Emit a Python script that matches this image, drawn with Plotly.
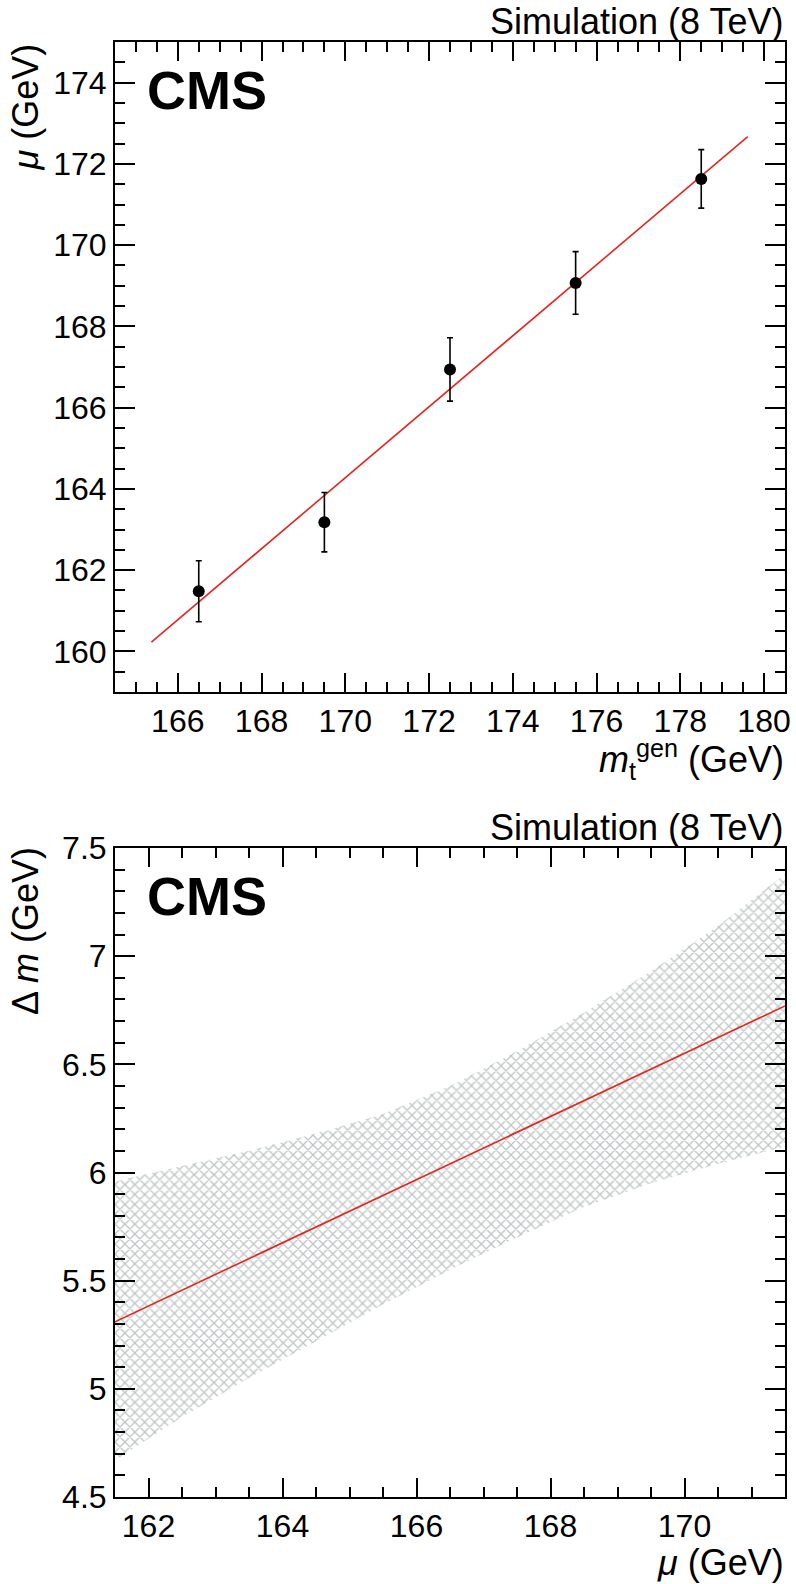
import plotly.graph_objects as go

# ---- top panel data ----
mt_gen = [166.5, 169.5, 172.5, 175.5, 178.5]
mu_fit = [161.48, 163.18, 166.94, 169.07, 171.63]
mu_err = [0.75, 0.73, 0.78, 0.77, 0.72]
fit_x = [165.37, 179.61]
fit_y = [160.23, 172.67]

# ---- bottom panel data ----
mu_grid = [161.5, 162.5, 163.5, 164.5, 165.5, 166.5, 167.5, 168.5, 169.5, 170.5, 171.5]
dm_upper = [5.96, 6.03, 6.10, 6.18, 6.27, 6.40, 6.56, 6.74, 6.93, 7.14, 7.38]
dm_lower = [4.67, 4.87, 5.05, 5.22, 5.39, 5.55, 5.70, 5.84, 5.95, 6.04, 6.12]
dm_line_x = [161.5, 171.5]
dm_line_y = [5.31, 6.77]

W, H = 796, 1584
ML, MR, MT, MB = 115, 5, 42, 87
PH = H - MT - MB


def py(p):
    return (H - MB - p) / PH


FONT = "Liberation Sans, Arial, sans-serif"
RED = "#e3261e"

fig = go.Figure()

fig.add_trace(go.Scatter(
    x=fit_x, y=fit_y, mode="lines", line=dict(color=RED, width=1.6),
    xaxis="x", yaxis="y", showlegend=False, hoverinfo="skip"))
fig.add_trace(go.Scatter(
    x=mt_gen, y=mu_fit, mode="markers",
    marker=dict(color="black", size=12),
    error_y=dict(type="data", array=mu_err, color="black", thickness=1.6, width=3),
    xaxis="x", yaxis="y", showlegend=False))

fig.add_trace(go.Scatter(
    x=mu_grid, y=dm_lower, mode="lines", line=dict(width=0, color="rgba(0,0,0,0)"),
    xaxis="x2", yaxis="y2", showlegend=False, hoverinfo="skip"))
fig.add_trace(go.Scatter(
    x=mu_grid, y=dm_upper, mode="lines", line=dict(width=0, color="rgba(0,0,0,0)"),
    fill="tonexty", fillcolor="rgba(0,0,0,0)",
    fillpattern=dict(shape="x", fgcolor="#7f8d8b", bgcolor="rgba(255,255,255,0)",
                     size=7, solidity=0.35),
    xaxis="x2", yaxis="y2", showlegend=False, hoverinfo="skip"))
fig.add_trace(go.Scatter(
    x=dm_line_x, y=dm_line_y, mode="lines", line=dict(color=RED, width=1.6),
    xaxis="x2", yaxis="y2", showlegend=False, hoverinfo="skip"))

axis_common = dict(
    showline=True, linecolor="black", linewidth=2, mirror="ticks",
    ticks="inside", tickcolor="black", tickwidth=2, showgrid=False, zeroline=False,
    tickfont=dict(family=FONT, size=32, color="black"),
)
minor_x = dict(ticklen=10, ticks="inside", tickcolor="black", tickwidth=2)

fig.update_layout(
    width=W, height=H,
    margin=dict(l=ML, r=MR, t=MT, b=MB),
    paper_bgcolor="white", plot_bgcolor="white",
    font=dict(family=FONT, color="black"),
    xaxis=dict(axis_common, domain=[0, 1], range=[164.5, 180.5], dtick=2, tick0=166,
               ticklen=19, anchor="y", minor=dict(minor_x, dtick=0.5)),
    yaxis=dict(axis_common, domain=[py(692), 1], range=[159, 175], dtick=2, tick0=160,
               ticklen=20, anchor="x", minor=dict(minor_x, dtick=0.5)),
    xaxis2=dict(axis_common, domain=[0, 1], range=[161.5, 171.5], dtick=2, tick0=162,
                ticklen=19, anchor="y2", minor=dict(minor_x, dtick=0.5)),
    yaxis2=dict(axis_common, domain=[0, py(848)], range=[4.5, 7.5], dtick=0.5, tick0=4.5,
                ticklen=20, anchor="x2", tickformat="~g", minor=dict(minor_x, dtick=0.1)),
)

ann = []
TF = dict(family=FONT, size=36, color="black")
for top in (42, 848):
    ann.append(dict(text="Simulation (8 TeV)", xref="paper", yref="paper", x=1, y=py(top),
                    xanchor="right", yanchor="bottom", showarrow=False, font=TF, yshift=-2))
for top in (42, 848):
    ann.append(dict(text="<b>CMS</b>", xref="paper", yref="paper", x=0, xshift=30, y=py(top),
                    yshift=-16, xanchor="left", yanchor="top", showarrow=False,
                    font=dict(family=FONT, size=54, color="black")))
ann.append(dict(text="<i>μ</i> (GeV)", xref="paper", yref="paper", x=0, xshift=-90, y=py(42),
                xanchor="center", yanchor="top", textangle=-90, showarrow=False, font=TF))
ann.append(dict(text="Δ <i>m</i> (GeV)", xref="paper", yref="paper", x=0, xshift=-90, y=py(845),
                xanchor="center", yanchor="top", textangle=-90, showarrow=False, font=TF))
ann.append(dict(text="<i>m</i><sub>t</sub><sup>gen</sup> (GeV)", xref="paper", yref="paper",
                x=1, y=py(786), xanchor="right", yanchor="bottom", showarrow=False, font=TF,
                borderpad=0))
ann.append(dict(text="<i>μ</i> (GeV)", xref="paper", yref="paper",
                x=1, y=py(1584), xanchor="right", yanchor="bottom", showarrow=False, font=TF,
                borderpad=0))
fig.update_layout(annotations=ann)

fig.write_html(
    "out.html",
    config={"displayModeBar": False},
    post_script="document.body.style.margin='0';document.body.style.overflow='hidden';",
)
